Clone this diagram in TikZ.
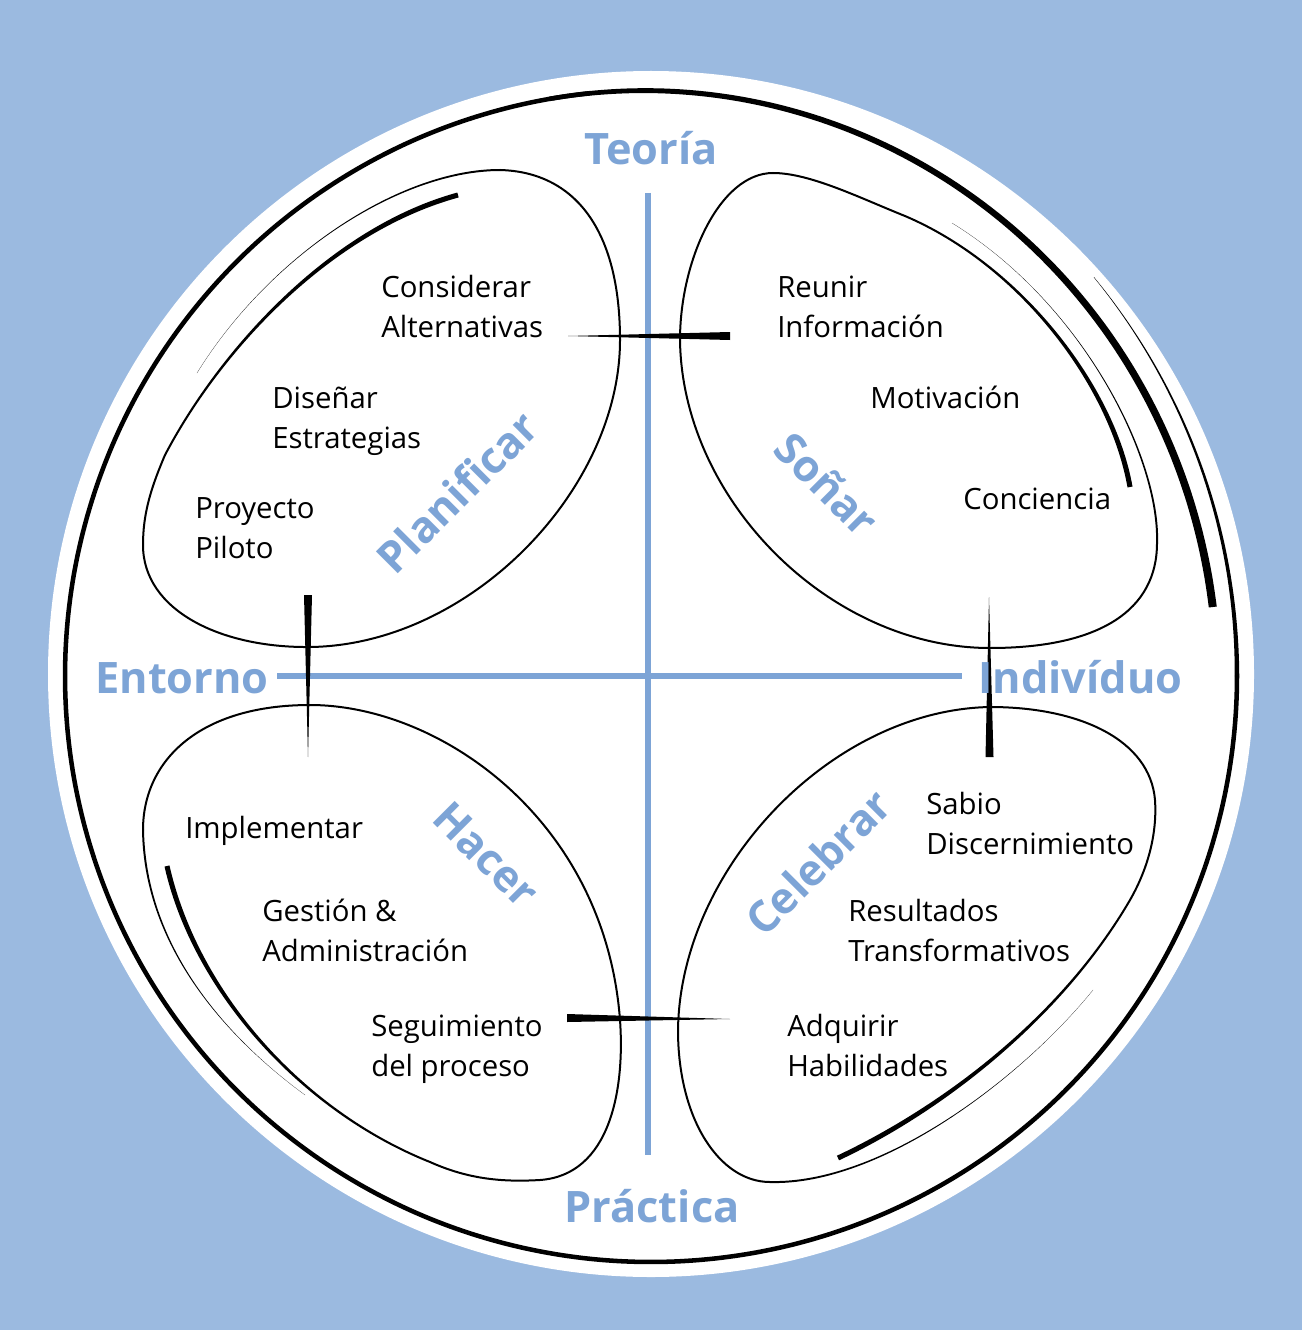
\documentclass[tikz,border=0pt]{standalone}
\usepackage{fontspec}
\setmainfont{Open Sans}
\usetikzlibrary{calc}
\definecolor{bgblue}{RGB}{155,186,224}
\definecolor{lblue}{RGB}{125,164,214}
% tapered brush stroke along a cubic curve: P0, C1, C2, P1, half-width at P0, half-width at P1
\newcommand{\mybrush}[6]{%
  \path ($(#1)!#5!90:(#2)$) coordinate (bAl) ($(#1)!#5!-90:(#2)$) coordinate (bAr)
        ($(#4)!#6!-90:(#3)$) coordinate (bBl) ($(#4)!#6!90:(#3)$) coordinate (bBr);
  \fill (bAl) .. controls ($(#2)+(bAl)-(#1)$) and ($(#3)+(bBl)-(#4)$) .. (bBl)
        -- (bBr) .. controls ($(#3)+(bBr)-(#4)$) and ($(#2)+(bAr)-(#1)$) .. (bAr) -- cycle;
}
\tikzset{
  declare function={
    Us(\t)=(\t-7)/93;
    Rs(\t)=566+20*(3*Us(\t)*Us(\t)-2*Us(\t)*Us(\t)*Us(\t));
    Ws(\t)=8-3.47*Us(\t);
    Rt(\t)=586+10*(\t/42)*(\t/42);
    Wt(\t)=4.2*(1-\t/42)+0.33;
  },
  petal/.style={line width=1.5pt, line cap=round},
  axis/.style={draw=lblue, line width=4.9pt},
  body/.style={font=\fontsize{22}{26}\selectfont, anchor=base west, inner sep=0pt},
  lbl/.style={font=\fontsize{32.5}{38}\selectfont\bfseries, text=lblue, inner sep=0pt},
}
\begin{document}
\begin{tikzpicture}[x=0.75pt,y=-0.75pt]
\useasboundingbox (0,0) rectangle (1302,1330);
\fill[bgblue] (0,0) rectangle (1302,1330);
\fill[white] (651,674) circle[radius=603];

% axes
\coordinate (vtop) at (648,193);
\coordinate (vbot) at (648,1155);
\coordinate (hleft) at (277,676);
\coordinate (hright) at (962,676);
\draw[axis] (vtop) -- (vbot);
\draw[axis] (hleft) -- (hright);

% outer ring: main stroke, thick start and fading tail
\draw[line width=3.4pt] plot[domain=96:360, samples=140, smooth, variable=\t]
  ({651+586*cos(\t)},{676-586*sin(\t)});
\fill plot[domain=7:100, samples=60, smooth, variable=\t]
  ({651+(Rs(\t)+Ws(\t)/2)*cos(\t)},{676-(Rs(\t)+Ws(\t)/2)*sin(\t)})
  -- plot[domain=100:7, samples=60, smooth, variable=\t]
  ({651+(Rs(\t)-Ws(\t)/2)*cos(\t)},{676-(Rs(\t)-Ws(\t)/2)*sin(\t)}) -- cycle;
\fill plot[domain=0:42, samples=30, smooth, variable=\t]
  ({651+(Rt(\t)+Wt(\t)/2)*cos(\t)},{676-(Rt(\t)+Wt(\t)/2)*sin(\t)})
  -- plot[domain=42:0, samples=30, smooth, variable=\t]
  ({651+(Rt(\t)-Wt(\t)/2)*cos(\t)},{676-(Rt(\t)-Wt(\t)/2)*sin(\t)}) -- cycle;

% Planificar petal
\mybrush{458,195}{330,230}{220,350}{165,455}{1.9pt}{0.75pt}
\draw[petal] (165,455) .. controls (150,490) and (143,515) .. (143,545)
  .. controls (143,610) and (220,648) .. (310,647)
  .. controls (470,645) and (620,490) .. (620,340)
  .. controls (620,230) and (575,172) .. (500,170);
\mybrush{500,170}{400,170}{270,255}{197,373}{0.75pt}{0.05pt}

% Sonar petal
\mybrush{1130,487}{1112,385}{1020,265}{905,216}{1.9pt}{0.75pt}
\draw[petal] (905,216) .. controls (860,198) and (810,173) .. (773,173)
  .. controls (720,173) and (680,260) .. (680,340)
  .. controls (682,500) and (830,648) .. (990,648)
  .. controls (1100,648) and (1157,610) .. (1157,543);
\mybrush{1157,543}{1160,460}{1085,305}{952,223}{0.75pt}{0.05pt}

% Hacer petal
\mybrush{167,866}{195,990}{300,1110}{430,1162}{1.9pt}{0.75pt}
\draw[petal] (430,1162) .. controls (470,1180) and (505,1182) .. (540,1180)
  .. controls (610,1175) and (625,1090) .. (620,1020)
  .. controls (605,820) and (440,705) .. (310,705)
  .. controls (200,705) and (143,760) .. (143,830);
\mybrush{143,830}{145,950}{230,1040}{305,1095}{0.75pt}{0.05pt}

% Celebrar petal
\mybrush{838,1158}{940,1110}{1060,1020}{1130,900}{1.9pt}{0.75pt}
\draw[petal] (1130,900) .. controls (1150,865) and (1157,830) .. (1155,800)
  .. controls (1150,740) and (1080,707) .. (990,707)
  .. controls (830,710) and (680,870) .. (678,1030)
  .. controls (678,1120) and (720,1182) .. (770,1182);
\mybrush{770,1182}{880,1185}{1020,1080}{1093,990}{0.75pt}{0.05pt}

% tapered links between petals
\coordinate (l1tip) at (568,336);
\coordinate (l1a) at (730,332);
\coordinate (l1b) at (730,340);
\fill (l1tip) -- (l1a) -- (l1b) -- cycle;
\coordinate (l2tip) at (989,597);
\coordinate (l2a) at (985.5,757);
\coordinate (l2b) at (993.5,757);
\fill (l2tip) -- (l2a) -- (l2b) -- cycle;
\coordinate (l3tip) at (308,757);
\coordinate (l3a) at (304,595);
\coordinate (l3b) at (312,595);
\fill (l3tip) -- (l3a) -- (l3b) -- cycle;
\coordinate (l4tip) at (730,1019);
\coordinate (l4a) at (567,1014);
\coordinate (l4b) at (567,1022);
\fill (l4tip) -- (l4a) -- (l4b) -- cycle;

% axis labels
\node[lbl, anchor=base] (teoria) at (651,165) {Teoría};
\node[lbl, anchor=base] (practica) at (652,1222) {Práctica};
\node[lbl, anchor=base west] (entorno) at (95,693) {Entorno};
\node[lbl, anchor=base west] (individuo) at (978,693) {Indivíduo};

% petal labels
\node[lbl, rotate=45] (planificar) at (457,492) {Planificar};
\node[lbl, rotate=-45] (sonar) at (827,484) {Soñar};
\node[lbl, rotate=-45] (hacer) at (486,855) {Hacer};
\node[lbl, rotate=45] (celebrar) at (818,862) {Celebrar};

% body texts
\node[body] (t1a) at (381,297) {Considerar};
\node[body] (t1b) at (381,337) {Alternativas};
\node[body] (t2a) at (777,297) {Reunir};
\node[body] (t2b) at (777,337) {Información};
\node[body] (t3a) at (272,408) {Diseñar};
\node[body] (t3b) at (272,448) {Estrategias};
\node[body] (t4) at (870,408) {Motivación};
\node[body] (t5a) at (195,518) {Proyecto};
\node[body] (t5b) at (195,558) {Piloto};
\node[body] (t6) at (963,509) {Conciencia};
\node[body] (t7) at (185,838) {Implementar};
\node[body] (t8a) at (926,814) {Sabio};
\node[body] (t8b) at (926,854) {Discernimiento};
\node[body] (t9a) at (262,921) {Gestión \&};
\node[body] (t9b) at (262,961) {Administración};
\node[body] (t10a) at (848,921) {Resultados};
\node[body] (t10b) at (848,961) {Transformativos};
\node[body] (t11a) at (371,1036) {Seguimiento};
\node[body] (t11b) at (371,1076) {del proceso};
\node[body] (t12a) at (787,1036) {Adquirir};
\node[body] (t12b) at (787,1076) {Habilidades};
\end{tikzpicture}
\end{document}
